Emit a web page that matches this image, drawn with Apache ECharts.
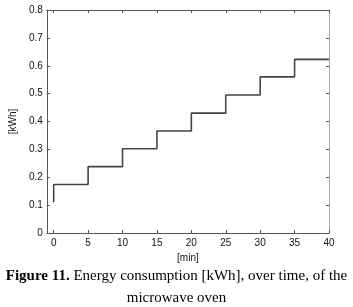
<!DOCTYPE html>
<html>
<head>
<meta charset="utf-8">
<script src="https://cdn.jsdelivr.net/npm/echarts@6/dist/echarts.min.js"></script>
<style>
  html, body { margin: 0; padding: 0; background: #fff; }
  #chart { width: 353px; height: 307px; }
</style>
</head>
<body>
<div id="chart"></div>
<script>
// step times [min] and cumulative energy [kWh]
var stepTimes = [0, 0, 5, 10, 15, 20, 25, 30, 35, 40];
var energy = [0.11, 0.174, 0.238, 0.302, 0.366, 0.43, 0.495, 0.56, 0.623, 0.623];
var xTicks = [0, 5, 10, 15, 20, 25, 30, 35, 40];

var points = stepTimes.map(function (t, i) { return [t, energy[i]]; });

var chart = echarts.init(document.getElementById('chart'));
var frame = '#555';
var labelFont = { fontFamily: 'Liberation Sans', fontSize: 10, color: '#111' };

var option = {
  animation: false,
  title: {
    left: 'center',
    top: 265,
    itemGap: 0,
    padding: 0,
    text: '{b|Figure 11.} {n|Energy consumption [kWh], over time, of the}\n{n|microwave oven}',
    textStyle: {
      fontFamily: 'Liberation Serif',
      fontSize: 15,
      fontWeight: 'normal',
      color: '#000',
      align: 'center',
      lineHeight: 22,
      rich: {
        b: { fontFamily: 'Liberation Serif', fontSize: 15, fontWeight: 'bold', color: '#000', lineHeight: 22 },
        n: { fontFamily: 'Liberation Serif', fontSize: 15, color: '#000', lineHeight: 22 }
      }
    }
  },
  grid: { left: 44, right: 24, top: 10, bottom: 74 },
  xAxis: [{
    type: 'value',
    min: -1,
    max: 40,
    name: '[min]',
    nameLocation: 'middle',
    nameGap: 14,
    nameTextStyle: labelFont,
    axisLine: { onZero: false, lineStyle: { color: frame, width: 1 } },
    axisTick: { inside: true, length: 3, customValues: xTicks, lineStyle: { color: frame } },
    axisLabel: Object.assign({ customValues: xTicks, margin: 5 }, labelFont),
    splitLine: { show: false }
  }, {
    type: 'value',
    position: 'top',
    min: -1,
    max: 40,
    axisLine: { show: true, onZero: false, lineStyle: { color: frame, width: 1 } },
    axisTick: { show: true, inside: true, length: 3, customValues: xTicks, lineStyle: { color: frame } },
    axisLabel: { show: false },
    splitLine: { show: false }
  }],
  yAxis: [{
    type: 'value',
    min: 0,
    max: 0.8,
    interval: 0.1,
    name: '[kWh]',
    nameLocation: 'middle',
    nameGap: 13,
    nameTextStyle: labelFont,
    axisLine: { show: true, onZero: false, lineStyle: { color: frame, width: 1 } },
    axisTick: { show: true, inside: true, length: 3, lineStyle: { color: frame } },
    axisLabel: Object.assign({ margin: 4 }, labelFont),
    splitLine: { show: false }
  }, {
    type: 'value',
    position: 'right',
    min: 0,
    max: 0.8,
    interval: 0.1,
    axisLine: { show: true, onZero: false, lineStyle: { color: '#aaa', width: 1 } },
    axisTick: { show: true, inside: true, length: 3, lineStyle: { color: frame } },
    axisLabel: { show: false },
    splitLine: { show: false }
  }],
  series: [{
    type: 'line',
    step: 'end',
    data: points,
    showSymbol: false,
    lineStyle: { color: '#444', width: 1.6 }
  }]
};

chart.setOption(option);
</script>
</body>
</html>
